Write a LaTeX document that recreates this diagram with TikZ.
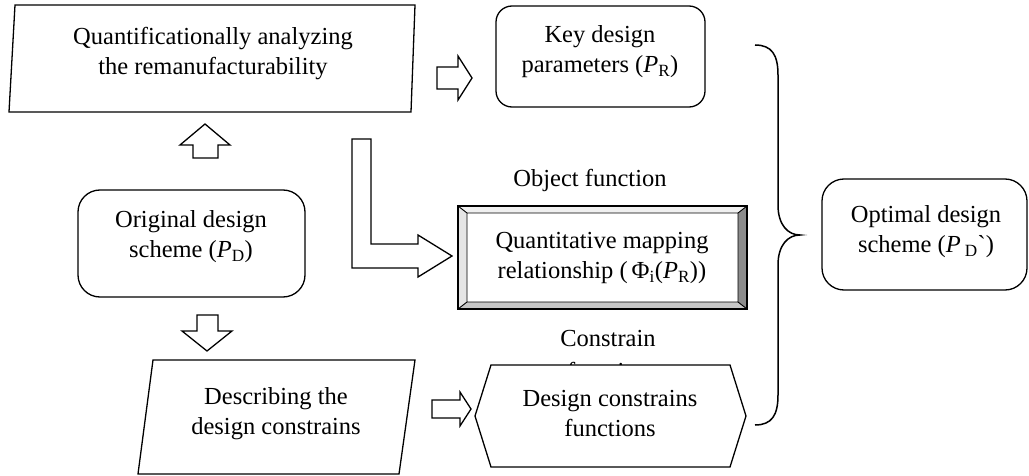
\documentclass[tikz,border=0pt]{standalone}
\usepackage{fontspec}
\setmainfont{Liberation Serif}
\begin{document}
\begin{tikzpicture}[x=1pt,y=-1pt,
  line/.style={draw=black,line width=1.3pt,line join=miter},
  blockarrow/.style={draw=black,line width=1.3pt,fill=white,line join=miter},
  lbl/.style={align=center,inner sep=0pt,font=\fontsize{24.5}{30}\selectfont}]
\useasboundingbox (0,0) rectangle (1029,476);

% top parallelogram
\draw[line] (15,5) -- (415,5) -- (411,112) -- (9,112) -- cycle;
\node[lbl] (qa) at (213,54) {Quantificationally analyzing\\the remanufacturability};

% key design parameters
\draw[line,rounded corners=16pt] (496,6) rectangle (705,107);
\node[lbl] (key) at (600,52) {Key design\\parameters (\textit{P}\textsubscript{R})};

% original design scheme
\draw[line,rounded corners=22pt] (78,190) rectangle (305,297);
\node[lbl] (orig) at (191,237) {Original design\\scheme (\textit{P}\textsubscript{D})};

% object function label
\node[lbl] (obj) at (590,180) {Object function};

% bevel box
\fill[white!94!black] (458,206) -- (747,206) -- (738,213) -- (467,213) -- cycle;
\fill[white!90!black] (458,206) -- (467,213) -- (467,302) -- (458,309) -- cycle;
\fill[white!78!black] (458,309) -- (467,302) -- (738,302) -- (747,309) -- cycle;
\fill[white!55!black] (747,206) -- (738,213) -- (738,302) -- (747,309) -- cycle;
\draw[line width=0.9pt] (467,213) rectangle (738,302)
  (458,206) -- (467,213) (747,206) -- (738,213) (458,309) -- (467,302) (747,309) -- (738,302);
\draw[line width=1.8pt] (458,206) rectangle (747,309);
\node[lbl] (qm) at (602,258) {Quantitative mapping\\relationship (\,Φ\textsubscript{i}(\textit{P}\textsubscript{R}))};

% constrain label (second line hidden behind hexagon)
\node[lbl,anchor=north] (con) at (608,330) {Constrain\\[3pt]function};

% hexagon
\draw[line,fill=white] (475,416) -- (491,365) -- (730,365) -- (746,416) -- (730,467) -- (491,467) -- cycle;
\node[lbl] (dcf) at (610,414) {Design constrains\\functions};

% describing parallelogram
\draw[line] (153,360) -- (415,360) -- (399,474) -- (138,474) -- cycle;
\node[lbl] (desc) at (276,414) {Describing the\\design constrains};

% optimal
\draw[line,rounded corners=22pt] (822,179) rectangle (1027,290);
\node[lbl] (opt) at (926,232) {Optimal design\\scheme (\textit{P}\,\textsubscript{D}\textasciigrave)};

% block arrows
\draw[blockarrow] (437,67) -- (458,67) -- (458,56) -- (472,78) -- (458,100) -- (458,89) -- (437,89) -- cycle;
\draw[blockarrow] (193,158) -- (193,145) -- (180,145) -- (205,124) -- (230,145) -- (218,145) -- (218,158) -- cycle;
\draw[blockarrow] (352,139) -- (371,139) -- (371,244) -- (418,244) -- (418,235) -- (452,256) -- (418,277) -- (418,268) -- (352,268) -- cycle;
\draw[blockarrow] (197,315) -- (218,315) -- (218,331) -- (232,331) -- (207,351) -- (182,331) -- (197,331) -- cycle;
\draw[blockarrow] (432,400) -- (460,400) -- (460,392) -- (471,409) -- (460,426) -- (460,418) -- (432,418) -- cycle;

% brace
\draw[line width=1.5pt] (755,45) .. controls (772,45) and (778,55) .. (778,75) -- (778,205)
  .. controls (778,225) and (788,235) .. (800,235)
  .. controls (788,235) and (778,245) .. (778,265) -- (778,395)
  .. controls (778,415) and (772,425) .. (755,425);
\end{tikzpicture}
\end{document}
